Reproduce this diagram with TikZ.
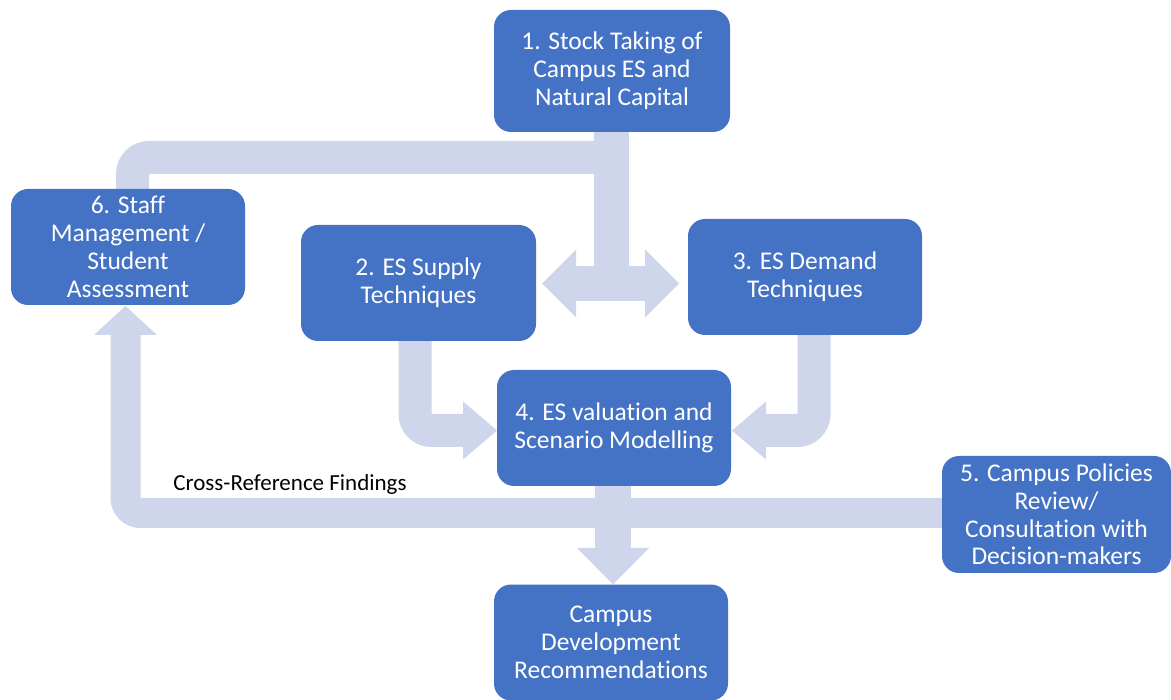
\documentclass[tikz,border=0pt]{standalone}
\usepackage{fontspec}
\setmainfont{Carlito}[Ligatures=NoCommon]
\usetikzlibrary{calc}
\definecolor{boxblue}{HTML}{4472C4}
\definecolor{flowc}{HTML}{CFD5EA}
\begin{document}
\begin{tikzpicture}[x=1pt,y=-1pt,
  stepbox/.style={rectangle, rounded corners=17pt, fill=boxblue, text=white,
    align=center, inner sep=0pt, minimum width=235pt, minimum height=117pt,
    font=\fontsize{25.5}{27.8}\selectfont},
  band/.style={draw=flowc, line cap=butt},
  headfill/.style={fill=flowc}]
\useasboundingbox (0,0) rectangle (1171,700);

% ---------- connectors (drawn first, boxes sit on top) ----------
\coordinate (hub) at (611,283.5);
\coordinate (b1s) at (611,132);
% stem from box 1 into the double arrow
\draw[band, line width=35pt] (b1s) -- (hub);
% branch to box 6
\coordinate (b6n) at (132.5,190);
\draw[band, line width=33pt, rounded corners=16.5pt] (611,157.5) -- (132.5,157.5) -- (b6n);
% double arrow between boxes 2 and 3
\draw[band, line width=35pt] (576,283.5) -- (645,283.5);
\fill[headfill] (576,249.5) -- (542,283.5) -- (576,317.5) -- cycle;
\fill[headfill] (645,249.5) -- (679,283.5) -- (645,317.5) -- cycle;

% box 2 -> box 4
\draw[band, line width=33pt, rounded corners=16.5pt] (415,340) -- (415,430.5) -- (464,430.5);
\fill[headfill] (463,401.5) -- (497,430.5) -- (463,459.5) -- cycle;
% box 3 -> box 4
\draw[band, line width=33pt, rounded corners=16.5pt] (814,334) -- (814,430.5) -- (765,430.5);
\fill[headfill] (766,401.5) -- (732,430.5) -- (766,459.5) -- cycle;

% box 5 -> box 6 (cross-reference loop)
\draw[band, line width=30pt, rounded corners=15pt] (943,513) -- (125.5,513) -- (125.5,334);
\fill[headfill] (94,335) -- (125.5,306) -- (157,335) -- cycle;

% box 4 -> recommendations
\draw[band, line width=36pt] (613,485) -- (613,549);
\fill[headfill] (577,548) -- (613,584.5) -- (649,548) -- cycle;

% ---------- boxes ----------
\node[stepbox, minimum width=236pt, minimum height=122pt] (b1) at (612,71)
  {1. Stock Taking of\\Campus ES and\\Natural Capital};
\node[stepbox, minimum width=234pt, minimum height=116pt] (b6) at (128,247)
  {6. Staff\\Management /\\Student\\Assessment};
\node[stepbox, minimum width=235pt, minimum height=116pt] (b2) at (418.5,283)
  {2. ES Supply\\Techniques};
\node[stepbox, minimum width=234pt, minimum height=116pt] (b3) at (805,277)
  {3. ES Demand\\Techniques};
\node[stepbox, minimum width=234pt, minimum height=116pt] (b4) at (614,428)
  {4. ES valuation and\\Scenario Modelling};
\node[stepbox, minimum width=229pt, minimum height=117pt] (b5) at (1056.5,514.5)
  {5. Campus Policies\\Review/\\Consultation with\\Decision-makers};
\node[stepbox, minimum width=234pt, minimum height=116pt] (b7) at (611,642.5)
  {Campus\\Development\\Recommendations};

% loop label
\node[font=\fontsize{23}{26}\selectfont, text=black, inner sep=0pt] (lbl) at (290,484)
  {Cross-Reference Findings};
\end{tikzpicture}
\end{document}
